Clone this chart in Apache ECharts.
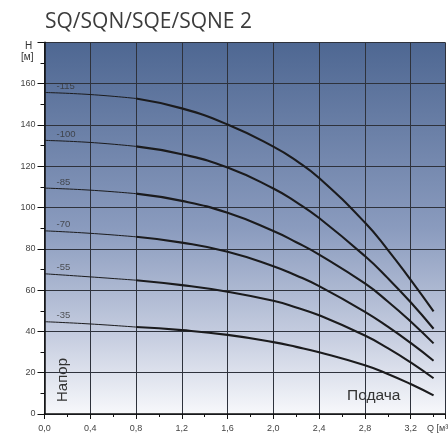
<!DOCTYPE html>
<html>
<head>
<meta charset="utf-8">
<script src="https://cdn.jsdelivr.net/npm/echarts@6/dist/echarts.min.js"></script>
<style>
html,body{margin:0;padding:0;background:#fff;}
#c{width:448px;height:440px;}
</style>
</head>
<body>
<div id="c"></div>
<script>
// Flow rate Q [m3/h]
const flow = [0, 0.4, 0.8, 1.2, 1.6, 2.0, 2.2, 2.4, 2.8, 3.0, 3.2, 3.4];
// Head H [m] per curve
const curveNames = ['-115', '-100', '-85', '-70', '-55', '-35'];
const h115 = [155.7, 154.7, 152.8, 148.0, 140.2, 129.5, 122.7, 114.3, 92.7, 79.5, 64.9, 49.7];
const h100 = [132.5, 131.5, 129.6, 125.8, 119.4, 109.2, 102.6, 94.9, 76.5, 65.8, 54.1, 41.3];
const h85  = [109.4, 108.4, 106.7, 103.2, 97.4, 88.6, 83.2, 77.2, 63.2, 54.5, 44.8, 34.2];
const h70  = [88.7, 87.5, 85.8, 83.0, 78.6, 71.6, 67.1, 61.9, 49.5, 42.3, 34.4, 25.8];
const h55  = [67.9, 66.4, 64.8, 62.4, 59.2, 54.8, 51.6, 47.8, 38.0, 31.9, 25.0, 17.3];
const h35  = [44.7, 43.6, 42.1, 40.6, 38.3, 34.8, 32.5, 29.9, 23.6, 19.4, 14.5, 9.0];
const heads = [h115, h100, h85, h70, h55, h35];

const xTickStep = 0.4;
const yTickStep = 20;
const thinUntil = 3; // first 3 points drawn thin

const chart = echarts.init(document.getElementById('c'), null, {renderer: 'canvas'});
const series = [];
heads.forEach((h, i) => {
  const pts = flow.map((q, k) => [q, h[k]]);
  series.push({
    type: 'line', smooth: 0.5, symbol: 'none', silent: true,
    data: pts.slice(0, thinUntil),
    lineStyle: {color: '#1b1b1d', width: 1},
    z: 3
  });
  series.push({
    type: 'line', smooth: 0.5, symbol: 'none', silent: true,
    data: pts.slice(thinUntil - 1),
    lineStyle: {color: '#1b1b1d', width: 2.1},
    z: 3
  });
  series.push({
    type: 'scatter', symbolSize: 0, silent: true,
    data: [[flow[0], h[0]]],
    label: {
      show: true, position: 'right', distance: 12, offset: [0, -6],
      formatter: curveNames[i], color: '#333', fontSize: 9.5,
      fontFamily: 'Liberation Sans'
    },
    z: 4
  });
});

const labelFont = {fontFamily: 'Liberation Sans', fontSize: 9, color: '#444'};

chart.setOption({
  animation: false,
  title: {
    text: 'SQ/SQN/SQE/SQNE 2', left: 40, top: 7,
    textStyle: {fontFamily: 'Open Sans', fontSize: 21, fontWeight: 'normal', color: '#3c3c3c'}
  },
  grid: {
    left: 44.5, right: -2.5, top: 42.3, bottom: 26,
    show: true, borderWidth: 0,
    backgroundColor: {
      type: 'linear', x: 0, y: 0, x2: 0, y2: 1,
      colorStops: [
        {offset: 0, color: '#4e6792'},
        {offset: 0.5, color: '#8a9bbe'},
        {offset: 0.8, color: '#c8cfe1'},
        {offset: 1, color: '#f7f8fb'}
      ]
    }
  },
  xAxis: {
    type: 'value', min: 0, max: 3.5, interval: xTickStep,
    axisLine: {show: true, onZero: false, lineStyle: {color: '#111', width: 1.5}},
    axisTick: {show: true, length: 5, lineStyle: {color: '#111', width: 1}},
    minorTick: {show: true, splitNumber: 2, length: 3, lineStyle: {color: '#111'}},
    splitLine: {show: true, lineStyle: {color: '#2e323c', width: 1}},
    axisLabel: Object.assign({
      margin: 10,
      formatter: v => {
        const r = v / xTickStep;
        if (Math.abs(r - Math.round(r)) > 1e-6) return '';
        return v.toFixed(1).replace('.', ',');
      }
    }, labelFont)
  },
  yAxis: {
    type: 'value', min: 0, max: 180, interval: yTickStep,
    axisLine: {show: true, onZero: false, lineStyle: {color: '#111', width: 1.5}},
    axisTick: {show: true, length: 7, lineStyle: {color: '#111', width: 1}},
    minorTick: {show: true, splitNumber: 2, length: 4, lineStyle: {color: '#111'}},
    splitLine: {show: true, lineStyle: {color: '#2e323c', width: 1}},
    axisLabel: Object.assign({
      margin: 9,
      formatter: v => (v >= 180 ? '' : String(v))
    }, labelFont)
  },
  graphic: [
    {type: 'text', left: 25, top: 41, style: {text: 'H', fontFamily: 'Liberation Sans', fontSize: 10, fill: '#333'}},
    {type: 'text', left: 21, top: 52, style: {text: '[м]', fontFamily: 'Liberation Sans', fontSize: 10, fill: '#333'}},
    {type: 'text', x: 55, y: 402, rotation: Math.PI / 2,
     style: {text: 'Напор', fontFamily: 'Liberation Sans', fontSize: 15, fill: '#333', textVerticalAlign: 'top'}},
    {type: 'text', left: 347, top: 388, style: {text: 'Подача', fontFamily: 'Liberation Sans', fontSize: 15.5, fill: '#333'}},
    {type: 'text', left: 427, top: 424, style: {text: 'Q [м³/ч]', fontFamily: 'Liberation Sans', fontSize: 9, fill: '#444'}}
  ],
  series: series
});
</script>
</body>
</html>
